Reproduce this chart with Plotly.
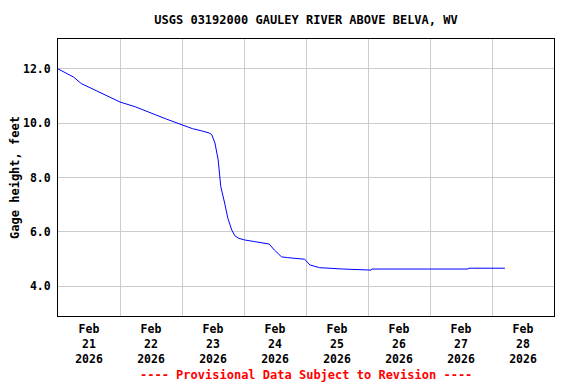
import plotly.graph_objects as go

times = [
    "2026-02-21 00:00", "2026-02-21 03:00", "2026-02-21 06:00", "2026-02-21 09:00",
    "2026-02-21 12:00", "2026-02-21 18:00", "2026-02-22 00:00", "2026-02-22 06:00",
    "2026-02-22 13:30", "2026-02-22 18:00", "2026-02-23 00:00", "2026-02-23 04:00",
    "2026-02-23 07:30", "2026-02-23 10:30", "2026-02-23 11:30", "2026-02-23 12:45",
    "2026-02-23 14:00", "2026-02-23 15:00", "2026-02-23 16:30", "2026-02-23 17:45",
    "2026-02-23 19:15", "2026-02-23 20:30", "2026-02-23 22:00", "2026-02-24 00:15",
    "2026-02-24 04:00", "2026-02-24 09:45", "2026-02-24 11:45", "2026-02-24 14:30",
    "2026-02-24 16:45", "2026-02-24 20:15", "2026-02-24 23:30", "2026-02-25 01:30",
    "2026-02-25 05:15", "2026-02-25 14:15", "2026-02-26 01:15", "2026-02-26 01:30",
    "2026-02-27 14:45", "2026-02-27 15:00", "2026-02-28 05:00",
]
gage_height = [
    12.00, 11.85, 11.70, 11.46,
    11.33, 11.05, 10.78, 10.60,
    10.31, 10.15, 9.94, 9.80,
    9.72, 9.64, 9.58, 9.27,
    8.65, 7.67, 7.06, 6.50,
    6.07, 5.85, 5.76, 5.70,
    5.64, 5.55, 5.33, 5.08,
    5.05, 5.03, 4.99, 4.78,
    4.68, 4.63, 4.59, 4.63,
    4.63, 4.66, 4.66,
]

y_ticks = [4.0, 6.0, 8.0, 10.0, 12.0]

FONT = "DejaVu Sans Mono"
OFF = 8  # page body margin offset compensation

fig = go.Figure()
fig.add_trace(go.Scatter(
    x=times, y=gage_height, mode="lines",
    line=dict(color="#0000ff", width=1),
    hoverinfo="x+y", showlegend=False,
))

fig.update_layout(
    width=576, height=384,
    margin=dict(l=58 - OFF, r=22 + OFF, t=39 - OFF, b=68 + OFF, autoexpand=False),
    paper_bgcolor="white", plot_bgcolor="white",
    font=dict(family=FONT, size=11.5, color="black"),
    title=dict(
        text="<b>USGS 03192000 GAULEY RIVER ABOVE BELVA, WV</b>",
        x=0.5, xref="paper", xanchor="center",
        y=1 - (20 - OFF) / 384, yanchor="middle",
        font=dict(family=FONT, size=12, color="black"),
    ),
    xaxis=dict(
        type="date", automargin=False,
        range=["2026-02-21 00:00", "2026-03-01 00:00"],
        dtick=86400000, tick0="2026-02-21",
        ticklabelmode="period",
        tickformat="<b>%b<br>%d<br>%Y</b>",
        ticks="", showgrid=True, gridcolor="#cccccc", gridwidth=1,
        showline=True, linecolor="black", linewidth=1, mirror=True,
        zeroline=False, ticklabelstandoff=2,
        tickfont=dict(family=FONT, size=11.5, color="black"),
    ),
    yaxis=dict(
        automargin=False,
        range=[2.9, 13.1],
        tickvals=y_ticks,
        ticktext=[f"<b>{v:.1f}</b>" for v in y_ticks],
        ticks="", showgrid=True, gridcolor="#cccccc", gridwidth=1,
        showline=True, linecolor="black", linewidth=1, mirror=True,
        zeroline=False, ticklabelstandoff=4,
        title=dict(text="<b>Gage height, feet</b>",
                   font=dict(family=FONT, size=12, color="black"), standoff=2),
        tickfont=dict(family=FONT, size=11.5, color="black"),
    ),
    annotations=[dict(
        text="<b>---- Provisional Data Subject to Revision ----</b>",
        x=0.5, xref="paper", xanchor="center",
        y=-(375 - 316) / (316 - 39), yref="paper", yanchor="middle",
        showarrow=False,
        font=dict(family=FONT, size=12, color="#ff0000"),
    )],
)

fig.write_html("out.html")
